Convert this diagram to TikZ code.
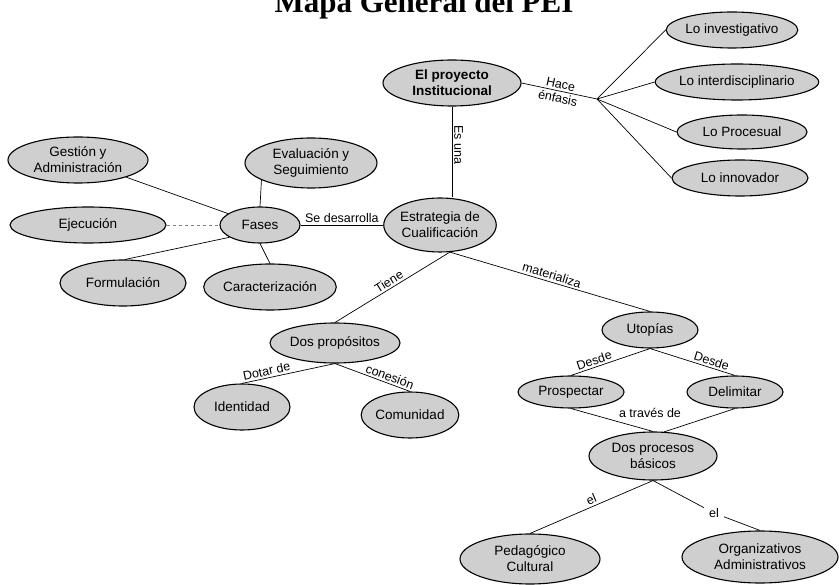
\documentclass[tikz,border=0pt]{standalone}
\usepackage{fontspec}
\setmainfont{Liberation Sans}
\newfontfamily\titulofont{Liberation Serif}
\usetikzlibrary{shapes.geometric,positioning}

\begin{document}
\begin{tikzpicture}[x=1pt, y=-1pt,
	concepto/.style 2 args={ellipse, draw, line width=1.1pt, fill=black!19, inner sep=0pt, align=center,
		minimum width=#1, minimum height=#2, font=\fontsize{13.5}{16}\selectfont},
	enlace/.style={font=\fontsize{12.5}{14}\selectfont, inner sep=2pt},
	linea/.style={line width=0.7pt}]
	\useasboundingbox (0,0) rectangle (839,585);
	% Titulo
		\node[anchor=base] (titulo) at (424,13) {\titulofont\bfseries\fontsize{31}{31}\selectfont Mapa General del PEI};

	% Proyecto institucional
		% Conceptos
			\node[concepto={138pt}{46pt}, font=\fontsize{13.5}{16}\selectfont\bfseries] (proy) at (452,83) {El proyecto\\Institucional};
			\node[concepto={130pt}{36pt}] (inv) at (732,30) {Lo investigativo};
			\node[concepto={144pt}{36pt}] (inter) at (737,82) {Lo interdisciplinario};
			\node[concepto={130pt}{34pt}] (proc) at (742,132) {Lo Procesual};
			\node[concepto={136pt}{36pt}] (innov) at (740,178) {Lo innovador};
			\coordinate (enf) at (597,99);
		% Enlaces
			\draw[linea] (proy.east) -- (enf) node[enlace, midway, sloped, above] (lhace) {Hace} node[enlace, midway, sloped, below] (lenfasis) {énfasis};
			\foreach \n in {inv,inter,proc,innov}
				\draw[linea] (enf) -- (\n.west);

	% Estrategia y fases
		% Conceptos
			\node[concepto={106pt}{54pt}] (estr) at (440,225) {Estrategia de\\Cualificación};
			\node[concepto={140pt}{46pt}] (gest) at (78,160) {Gestión y\\Administración};
			\node[concepto={132pt}{50pt}] (eval) at (311,163) {Evaluación y\\Seguimiento};
			\node[concepto={156pt}{36pt}] (ejec) at (88,225) {Ejecución};
			\node[concepto={80pt}{36pt}] (fases) at (260,225) {Fases};
			\node[concepto={126pt}{46pt}] (form) at (123,283) {Formulación};
			\node[concepto={130pt}{46pt}] (cara) at (270,287) {Caracterización};
		% Enlaces
			\draw[linea] (proy.south) -- (proy.south |- estr.north) node[enlace, pos=0.42, rotate=-90, above] (lesuna) {Es una};
			\draw[linea] (fases) -- (estr) node[enlace, midway, above] (ldesarrolla) {Se desarrolla};
			\draw[linea] (gest) -- (fases);
			\draw[linea] (eval.199) -- (fases.north);
			\draw[linea, dashed, gray] (ejec) -- (fases);
			\draw[linea] (fases.202) -- (form.85);
			\draw[linea] (fases.south) -- (cara.north);

	% Propositos
		\node[concepto={130pt}{40pt}] (dosprop) at (335,343) {Dos propósitos};
		\node[concepto={96pt}{46pt}] (iden) at (242,407) {Identidad};
		\node[concepto={96pt}{46pt}] (comu) at (410,415) {Comunidad};
		\draw[linea] (estr.-70) -- (dosprop.north) node[enlace, midway, sloped, above] (ltiene) {Tiene};
		\draw[linea] (dosprop.south) -- (iden.north) node[enlace, pos=0.72, sloped, above] (ldotar) {Dotar de};
		\draw[linea] (dosprop.south) -- (comu.north) node[enlace, pos=0.7, sloped, above] (lconesion) {conesión};

	% Utopias
		% Conceptos
			\node[concepto={96pt}{36pt}] (utop) at (650,330) {Utopías};
			\node[concepto={106pt}{32pt}] (prosp) at (571,392) {Prospectar};
			\node[concepto={96pt}{32pt}] (delim) at (735,392) {Delimitar};
			\node[concepto={128pt}{48pt}] (dosproc) at (653,456) {Dos procesos\\básicos};
			\node[concepto={140pt}{50pt}] (peda) at (530,559) {Pedagógico\\Cultural};
			\node[concepto={156pt}{52pt}] (orga) at (760,557) {Organizativos\\Administrativos};
		% Enlaces
			\draw[linea] (estr.-70) -- (utop.north) node[enlace, midway, sloped, above] (lmaterializa) {materializa};
			\draw[linea] (utop.south) -- (prosp.north) node[enlace, pos=0.68, sloped, above] (ldesde1) {Desde};
			\draw[linea] (utop.south) -- (delim.north) node[enlace, pos=0.7, sloped, above] (ldesde2) {Desde};
			\draw[linea] (prosp.south) -- (dosproc.north);
			\draw[linea] (delim.south) -- (dosproc.65);
			\node[enlace] (latraves) at (650,413) {a través de};
			\draw[linea] (dosproc.south) -- (peda.north) node[enlace, pos=0.48, sloped, above] (lel1) {el};
			\node[enlace, inner sep=5pt] (lel2) at (714,513) {el};
			\draw[linea] (dosproc.south) -- (lel2) -- (orga.north);
\end{tikzpicture}
\end{document}
